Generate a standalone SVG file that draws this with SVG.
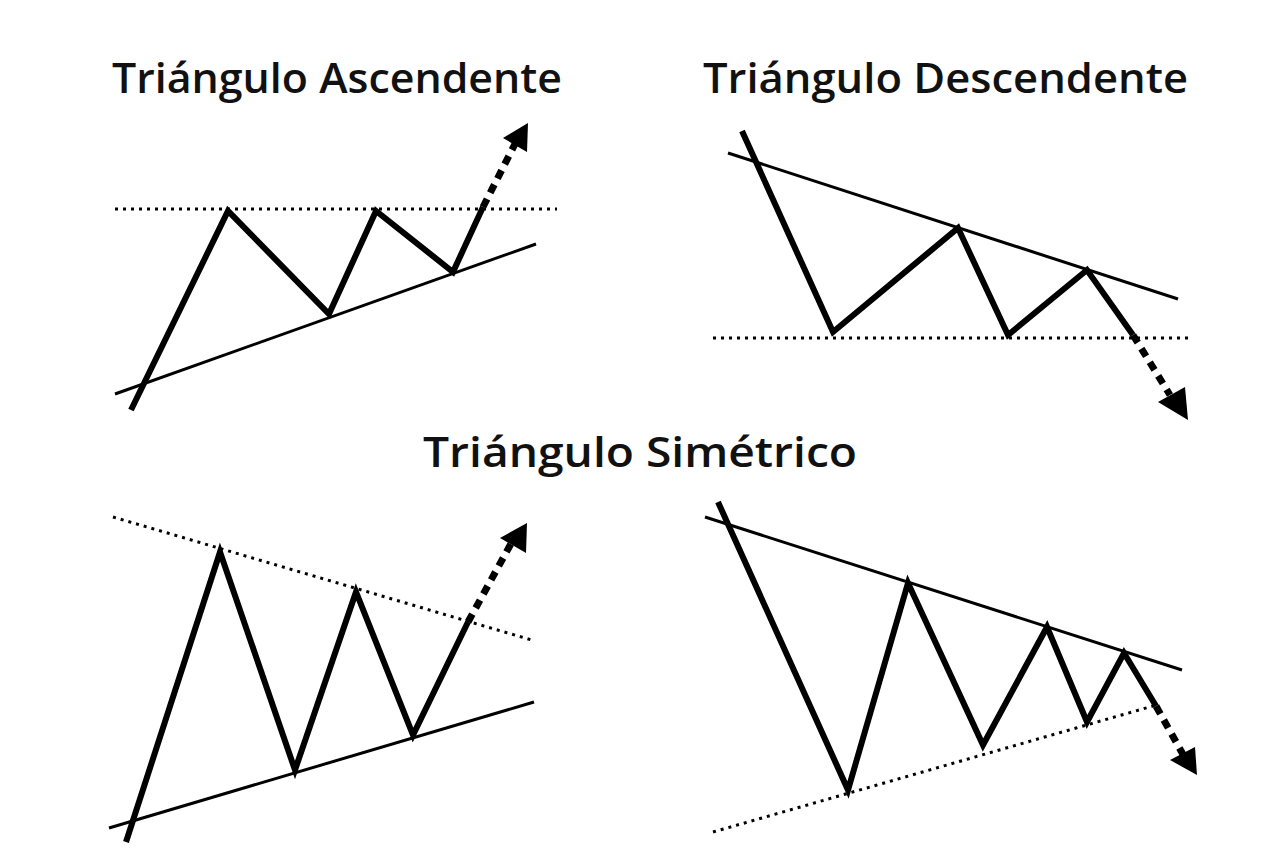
<svg xmlns="http://www.w3.org/2000/svg" width="1280" height="853" viewBox="0 0 1280 853">
<style>
.title{font-family:"Open Sans","Noto Sans","Liberation Sans",sans-serif;font-size:41px;font-weight:600;fill:#111}
.zig{fill:none;stroke:#000;stroke-width:6;stroke-linejoin:miter;stroke-linecap:butt}
.trend{fill:none;stroke:#000;stroke-width:3}
.dots{fill:none;stroke:#000;stroke-width:3;stroke-dasharray:3 5}
.shaft{fill:none;stroke:#000;stroke-width:7;stroke-dasharray:9 7}
.head{fill:#000}
</style>
<rect width="1280" height="853" fill="#fff"/>
<g id="asc">
<text class="title" x="112" y="93" textLength="450" lengthAdjust="spacingAndGlyphs">Triángulo Ascendente</text>
<line class="dots" x1="115" y1="209" x2="557" y2="209"/>
<line class="trend" x1="115" y1="394" x2="536" y2="244"/>
<polyline class="zig" points="131,410 228,211 329,314 376,211 453,272 483,207"/>
<line class="shaft" x1="483" y1="207" x2="516" y2="142"/>
<polygon class="head" points="528,123 503,138 527,152"/>
</g>
<g id="desc">
<text class="title" x="703" y="93" textLength="485" lengthAdjust="spacingAndGlyphs">Triángulo Descendente</text>
<line class="trend" x1="728" y1="153" x2="1178" y2="299"/>
<line class="dots" x1="713" y1="338" x2="1188" y2="338"/>
<polyline class="zig" points="742,131 833,332 958,228 1008,335 1087,270 1133,335"/>
<line class="shaft" x1="1133" y1="335" x2="1170" y2="395"/>
<polygon class="head" points="1188,420 1158,402 1185,387"/>
</g>
<g id="sym-title">
<text class="title" x="423" y="467" textLength="434" lengthAdjust="spacingAndGlyphs">Triángulo Simétrico</text>
</g>
<g id="sym1">
<line class="dots" x1="113" y1="517" x2="535" y2="641"/>
<line class="trend" x1="109" y1="828" x2="534" y2="702"/>
<polyline class="zig" points="126,842 220,552 295,770 356,592 413,735 468,622"/>
<line class="shaft" x1="468" y1="622" x2="513" y2="540"/>
<polygon class="head" points="527,523 500,538 526,553"/>
</g>
<g id="sym2">
<line class="trend" x1="705" y1="517" x2="1182" y2="670"/>
<line class="dots" x1="713" y1="832" x2="1153" y2="706"/>
<polyline class="zig" points="718,502 848,790 908,583 983,745 1047,627 1087,722 1124,653 1156,706"/>
<line class="shaft" x1="1156" y1="706" x2="1185" y2="758"/>
<polygon class="head" points="1197,775 1170,760 1195,747"/>
</g>
</svg>
